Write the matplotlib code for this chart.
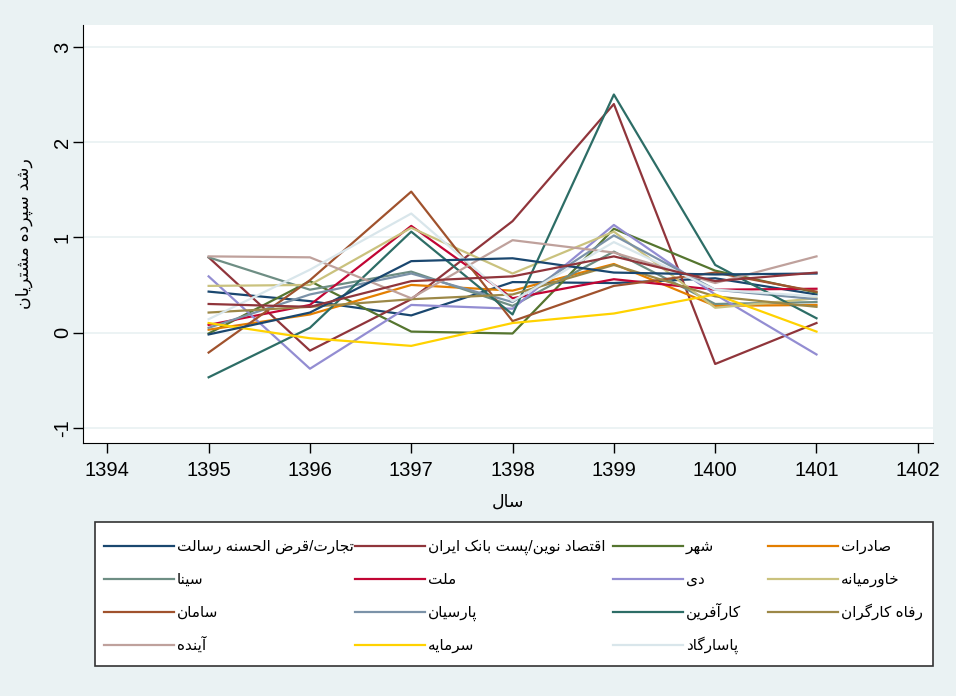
import matplotlib
matplotlib.use('Agg')
import matplotlib.pyplot as plt
from matplotlib.lines import Line2D
from matplotlib.patches import Rectangle

# persian text needs manual shaping (matplotlib has no arabic shaping)
FORMS = {
    'ا': (0xFE8D, 0xFE8E), 'آ': (0xFE81, 0xFE82),
    'ب': (0xFE8F, 0xFE90, 0xFE91, 0xFE92), 'پ': (0xFB56, 0xFB57, 0xFB58, 0xFB59),
    'ت': (0xFE95, 0xFE96, 0xFE97, 0xFE98), 'ث': (0xFE99, 0xFE9A, 0xFE9B, 0xFE9C),
    'ج': (0xFE9D, 0xFE9E, 0xFE9F, 0xFEA0), 'چ': (0xFB7A, 0xFB7B, 0xFB7C, 0xFB7D),
    'ح': (0xFEA1, 0xFEA2, 0xFEA3, 0xFEA4), 'خ': (0xFEA5, 0xFEA6, 0xFEA7, 0xFEA8),
    'د': (0xFEA9, 0xFEAA), 'ذ': (0xFEAB, 0xFEAC), 'ر': (0xFEAD, 0xFEAE),
    'ز': (0xFEAF, 0xFEB0), 'ژ': (0xFB8A, 0xFB8B),
    'س': (0xFEB1, 0xFEB2, 0xFEB3, 0xFEB4), 'ش': (0xFEB5, 0xFEB6, 0xFEB7, 0xFEB8),
    'ص': (0xFEB9, 0xFEBA, 0xFEBB, 0xFEBC), 'ض': (0xFEBD, 0xFEBE, 0xFEBF, 0xFEC0),
    'ط': (0xFEC1, 0xFEC2, 0xFEC3, 0xFEC4), 'ظ': (0xFEC5, 0xFEC6, 0xFEC7, 0xFEC8),
    'ع': (0xFEC9, 0xFECA, 0xFECB, 0xFECC), 'غ': (0xFECD, 0xFECE, 0xFECF, 0xFED0),
    'ف': (0xFED1, 0xFED2, 0xFED3, 0xFED4), 'ق': (0xFED5, 0xFED6, 0xFED7, 0xFED8),
    'ک': (0xFB8E, 0xFB8F, 0xFB90, 0xFB91), 'گ': (0xFB92, 0xFB93, 0xFB94, 0xFB95),
    'ل': (0xFEDD, 0xFEDE, 0xFEDF, 0xFEE0), 'م': (0xFEE1, 0xFEE2, 0xFEE3, 0xFEE4),
    'ن': (0xFEE5, 0xFEE6, 0xFEE7, 0xFEE8), 'و': (0xFEED, 0xFEEE),
    'ه': (0xFEE9, 0xFEEA, 0xFEEB, 0xFEEC), 'ی': (0xFBFC, 0xFBFD, 0xFBFE, 0xFBFF),
}


def fa(text):
    out = []
    for i, c in enumerate(text):
        if c not in FORMS:
            out.append(c)
            continue
        f = FORMS[c]
        prev = text[i - 1] if i > 0 else None
        nxt = text[i + 1] if i + 1 < len(text) else None
        jp = prev in FORMS and len(FORMS[prev]) == 4
        jn = len(f) == 4 and nxt in FORMS
        if jp and jn:
            g = f[3]
        elif jp:
            g = f[1]
        elif jn:
            g = f[2]
        else:
            g = f[0]
        out.append(chr(g))
    return ''.join(reversed(out))


plt.rcParams['font.family'] = ['Liberation Sans', 'DejaVu Sans']
plt.rcParams['axes.unicode_minus'] = False

years = [1395, 1396, 1397, 1398, 1399, 1400, 1401]

# series values
tejarat = [0.43, 0.33, 0.18, 0.53, 0.52, 0.57, 0.40]
eqtesad_novin = [0.79, -0.19, 0.35, 1.17, 2.40, -0.33, 0.10]
shahr = [-0.01, 0.54, 0.01, -0.01, 1.09, 0.65, 0.42]
saderat = [0.03, 0.19, 0.50, 0.44, 0.72, 0.28, 0.29]
sina = [0.79, 0.45, 0.64, 0.28, 0.85, 0.30, 0.32]
mellat = [0.08, 0.29, 1.12, 0.36, 0.56, 0.45, 0.46]
dey = [0.59, -0.38, 0.29, 0.25, 1.13, 0.40, -0.23]
khavarmianeh = [0.49, 0.50, 1.10, 0.62, 1.06, 0.26, 0.36]
saman = [-0.21, 0.55, 1.48, 0.12, 0.49, 0.63, 0.43]
parsian = [0.05, 0.40, 0.62, 0.32, 1.02, 0.45, 0.35]
karafarin = [-0.47, 0.05, 1.06, 0.19, 2.50, 0.71, 0.15]
refah = [0.21, 0.27, 0.35, 0.40, 0.71, 0.38, 0.27]
ayandeh = [0.80, 0.79, 0.36, 0.97, 0.84, 0.52, 0.80]
sarmayeh = [0.10, -0.06, -0.14, 0.10, 0.20, 0.40, 0.01]
pasargad = [0.14, 0.66, 1.25, 0.33, 0.95, 0.45, 0.38]
resalat = [-0.02, 0.21, 0.75, 0.78, 0.63, 0.61, 0.62]
postbank = [0.30, 0.27, 0.54, 0.59, 0.80, 0.54, 0.63]

series = [tejarat, eqtesad_novin, shahr, saderat, sina, mellat, dey, khavarmianeh,
          saman, parsian, karafarin, refah, ayandeh, sarmayeh, pasargad,
          resalat, postbank]

labels = ['تجارت/قرض الحسنه رسالت', 'اقتصاد نوین/پست بانک ایران', 'شهر', 'صادرات',
          'سینا', 'ملت', 'دی', 'خاورمیانه', 'سامان', 'پارسیان', 'کارآفرین',
          'رفاه کارگران', 'آینده', 'سرمایه', 'پاسارگاد']

# stata s2color pens
pens = ['#1a476f', '#90353b', '#55752f', '#e37e00', '#6e8e84', '#c10534',
        '#938dd2', '#cac27e', '#a0522d', '#7b92a8', '#2d6d66', '#9c8847',
        '#bfa19c', '#ffd200', '#d9e6eb']

W, H = 956, 696
fig = plt.figure(figsize=(W / 100, H / 100), dpi=100, facecolor='#eaf2f3')
ax = fig.add_axes([83 / W, 1 - 443 / H, 850 / W, 418 / H])
ax.set_facecolor('white')

for i, vals in enumerate(series):
    ax.plot(years, vals, color=pens[i % len(pens)], lw=1.6)

ax.set_xlim(1393.76, 1402.15)
ax.set_ylim(-1.16, 3.23)
ax.set_xticks(range(1394, 1403))
ax.set_yticks([-1, 0, 1, 2, 3])
ax.yaxis.grid(True, color='#eaf2f3', lw=1.3)
ax.set_axisbelow(True)
ax.spines['top'].set_visible(False)
ax.spines['right'].set_visible(False)
ax.tick_params(axis='both', labelsize=14.5, length=7, width=1, direction='out')
ax.tick_params(axis='x', pad=6)
ax.tick_params(axis='y', pad=1)
plt.setp(ax.get_yticklabels(), rotation=90, va='center')

ax.set_xlabel(fa('سال'), fontsize=12.5, labelpad=10)
ax.set_ylabel(fa('رشد سپرده مشتریان'), fontsize=12.5, labelpad=14)

# legend drawn by hand: stata fills rows, fixed column starts
fig.add_artist(Rectangle((95 / W, 1 - 666 / H), 838 / W, 144 / H,
                         transform=fig.transFigure, facecolor='white',
                         edgecolor='#333333', lw=1.2))
col_x = [104, 355, 613, 768]
row_y = [546, 579, 612, 645]
for k, lab in enumerate(labels):
    r, c = divmod(k, 4)
    x0 = col_x[c]
    y0 = 1 - row_y[r] / H
    fig.add_artist(Line2D([x0 / W, (x0 + 70) / W], [y0, y0], color=pens[k], lw=1.6,
                          transform=fig.transFigure))
    fig.text((x0 + 73) / W, y0 - 5 / H, fa(lab), fontsize=11, va='baseline', ha='left')

fig.savefig('out.png', dpi=100, facecolor=fig.get_facecolor())
